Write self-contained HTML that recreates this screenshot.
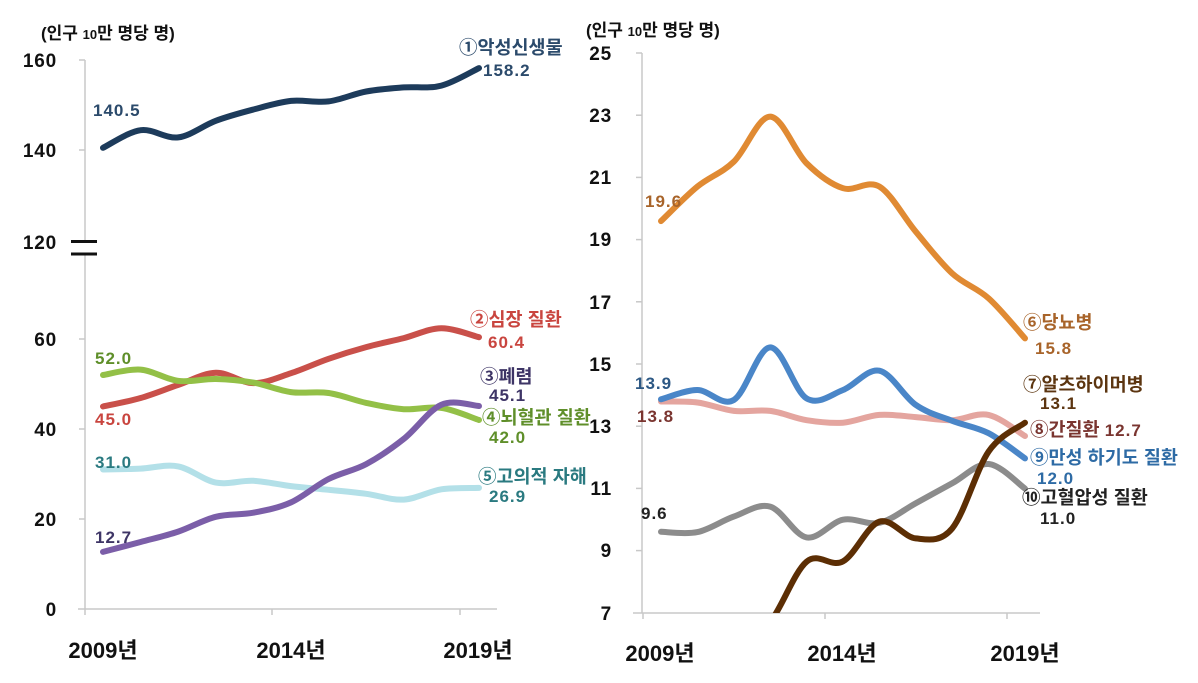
<!DOCTYPE html>
<html><head><meta charset="utf-8">
<style>
html,body{margin:0;padding:0;background:#fff;}
svg{display:block;}
text{font-family:"Liberation Sans","Noto Sans CJK KR",sans-serif;font-weight:bold;}
.yt{font-size:19px;fill:#111;letter-spacing:0.8px;}
.xt{font-size:22px;fill:#111;}
.kr{font-size:18.5px;}
.num{font-size:17px;letter-spacing:1px;}
.ttl{font-size:17px;fill:#111;}
</style></head>
<body>
<svg id="chart" width="1198" height="683" viewBox="0 0 1198 683" xmlns="http://www.w3.org/2000/svg">
<defs>
<clipPath id="clipR"><rect x="643" y="40" width="420" height="573"/></clipPath>
</defs>
<rect width="1198" height="683" fill="#fff"/>

<!-- LEFT CHART AXES -->
<g stroke="#c8c8c8" stroke-width="1.5" fill="none">
<line x1="85" y1="60" x2="85" y2="609"/>
<line x1="78" y1="609" x2="497" y2="609"/>
<line x1="79" y1="60" x2="85" y2="60"/>
<line x1="79" y1="150" x2="85" y2="150"/>
<line x1="79" y1="339" x2="85" y2="339"/>
<line x1="79" y1="429" x2="85" y2="429"/>
<line x1="79" y1="519" x2="85" y2="519"/>
<line x1="85" y1="609" x2="85" y2="615"/>
<line x1="272" y1="609" x2="272" y2="615"/>
<line x1="460" y1="609" x2="460" y2="615"/>
</g>
<rect x="70" y="243" width="28" height="10" fill="#fff"/>
<g stroke="#111" stroke-width="3">
<line x1="71" y1="241.5" x2="97" y2="241.5"/>
<line x1="71" y1="254" x2="97" y2="254"/>
</g>
<g class="yt" text-anchor="end">
<text x="57" y="67">160</text>
<text x="57" y="157">140</text>
<text x="57" y="249">120</text>
<text x="57" y="346">60</text>
<text x="57" y="436">40</text>
<text x="57" y="526">20</text>
<text x="57" y="616">0</text>
</g>
<g class="xt" text-anchor="middle">
<text x="103" y="658">2009년</text>
<text x="291" y="658">2014년</text>
<text x="478" y="658">2019년</text>
</g>
<text class="ttl" x="41" y="39">(인구 <tspan font-size="13">10</tspan>만 명당 명)</text>

<!-- RIGHT CHART AXES -->
<g stroke="#c8c8c8" stroke-width="1.5" fill="none">
<line x1="642" y1="53" x2="642" y2="613"/>
<line x1="633" y1="613" x2="1040" y2="613"/>
<line x1="636" y1="53" x2="642" y2="53"/>
<line x1="636" y1="115.2" x2="642" y2="115.2"/>
<line x1="636" y1="177.4" x2="642" y2="177.4"/>
<line x1="636" y1="239.6" x2="642" y2="239.6"/>
<line x1="636" y1="301.8" x2="642" y2="301.8"/>
<line x1="636" y1="364" x2="642" y2="364"/>
<line x1="636" y1="426.2" x2="642" y2="426.2"/>
<line x1="636" y1="488.4" x2="642" y2="488.4"/>
<line x1="636" y1="550.6" x2="642" y2="550.6"/>
<line x1="643" y1="613" x2="643" y2="619"/>
<line x1="825" y1="613" x2="825" y2="619"/>
<line x1="1007" y1="613" x2="1007" y2="619"/>
</g>
<g class="yt" text-anchor="end">
<text x="612" y="60">25</text>
<text x="612" y="122">23</text>
<text x="612" y="184">21</text>
<text x="612" y="246">19</text>
<text x="612" y="309">17</text>
<text x="612" y="371">15</text>
<text x="612" y="433">13</text>
<text x="612" y="495">11</text>
<text x="612" y="557">9</text>
<text x="612" y="620">7</text>
</g>
<g class="xt" text-anchor="middle">
<text x="660" y="661">2009년</text>
<text x="842" y="661">2014년</text>
<text x="1025" y="661">2019년</text>
</g>
<text class="ttl" x="586" y="36">(인구 <tspan font-size="13">10</tspan>만 명당 명)</text>

<!-- SERIES (paths filled by script) -->
<g fill="none" stroke-width="6" stroke-linecap="round" stroke-linejoin="round">
<path id="s1" stroke="#1d3b5b"/>
<path id="s2" stroke="#c9504a"/>
<path id="s4" stroke="#93c047"/>
<path id="s5" stroke="#b3e0e8"/>
<path id="s3" stroke="#7b5ea8"/>
<path id="s6" stroke="#e08a33"/>
<path id="s8" stroke="#e4a59f"/>
<path id="s10" stroke="#8c8c8c"/>
<path id="s9" stroke="#4a86c8"/>
<path id="s7" stroke="#5c2e04" clip-path="url(#clipR)"/>
</g>

<!-- LEFT LABELS -->
<g fill="#2b4a6b">
<text class="kr" x="459" y="54">①악성신생물</text>
<text class="num" x="483" y="76">158.2</text>
<text class="num" x="93" y="116">140.5</text>
</g>
<g fill="#c9453f">
<text class="kr" x="470" y="326">②심장 질환</text>
<text class="num" x="488" y="348">60.4</text>
<text class="num" x="95" y="425">45.0</text>
</g>
<g fill="#5f8f2a">
<text class="num" x="95" y="364">52.0</text>
<text class="kr" x="482" y="424">④뇌혈관 질환</text>
<text class="num" x="489" y="443">42.0</text>
</g>
<g fill="#3e3566">
<text class="kr" x="480" y="383">③폐렴</text>
<text class="num" x="489" y="401">45.1</text>
<text class="num" x="95" y="543">12.7</text>
</g>
<g fill="#2a7a80">
<text class="num" x="95" y="468">31.0</text>
<text class="kr" x="478" y="483">⑤고의적 자해</text>
<text class="num" x="489" y="502">26.9</text>
</g>

<!-- RIGHT LABELS -->
<g fill="#a8642a">
<text class="num" x="645" y="207">19.6</text>
<text class="kr" x="1023" y="329">⑥당뇨병</text>
<text class="num" x="1035" y="354">15.8</text>
</g>
<g fill="#2d5884">
<text class="num" x="635" y="389">13.9</text>
</g>
<g fill="#7a3530">
<text class="num" x="637" y="422">13.8</text>
<text class="kr" x="1030" y="436">⑧간질환 <tspan class="num">12.7</tspan></text>
</g>
<g fill="#5c3510">
<text class="kr" x="1023" y="391">⑦알츠하이머병</text>
<text class="num" x="1040" y="409">13.1</text>
</g>
<g fill="#2e6ba5">
<text class="kr" x="1030" y="464">⑨만성 하기도 질환</text>
<text class="num" x="1037" y="484">12.0</text>
</g>
<g fill="#222">
<text class="num" x="641" y="519">9.6</text>
<text class="kr" x="1022" y="504">⑩고혈압성 질환</text>
<text class="num" x="1040" y="524">11.0</text>
</g>
</svg>
<script>
(function(){
function build(xs, ys){
  var n=xs.length, d="M"+xs[0].toFixed(1)+","+ys[0].toFixed(1);
  for(var i=0;i<n-1;i++){
    var p0=i>0?i-1:i, p3=i+2<n?i+2:i+1;
    var c1x=xs[i]+(xs[i+1]-xs[p0])/6, c1y=ys[i]+(ys[i+1]-ys[p0])/6;
    var c2x=xs[i+1]-(xs[p3]-xs[i])/6, c2y=ys[i+1]-(ys[p3]-ys[i])/6;
    d+=" C"+c1x.toFixed(1)+","+c1y.toFixed(1)+" "+c2x.toFixed(1)+","+c2y.toFixed(1)+" "+xs[i+1].toFixed(1)+","+ys[i+1].toFixed(1);
  }
  return d;
}
function xsL(){var a=[];for(var i=0;i<11;i++)a.push(103+i*37.6);return a;}
function xsR(){var a=[];for(var i=0;i<11;i++)a.push(661+i*36.4);return a;}
function upper(v){return 60+(160-v)*4.5;}
function lower(v){return 609-v*4.5;}
function right(v){return 613-(v-7)*31.1;}
var L={
 s1:[[140.5,144.4,142.8,146.5,149.0,150.9,150.8,153.0,153.9,154.3,158.2],upper],
 s2:[[45.0,46.9,49.8,52.5,50.2,52.4,55.6,58.2,60.2,62.4,60.4],lower],
 s3:[[12.7,14.9,17.2,20.5,21.4,23.7,28.9,32.2,37.8,45.4,45.1],lower],
 s4:[[52.0,53.2,50.7,51.1,50.3,48.2,48.0,45.8,44.4,44.7,42.0],lower],
 s5:[[31.0,31.2,31.7,28.1,28.5,27.3,26.5,25.6,24.3,26.6,26.9],lower]
};
var R={
 s6:[19.6,20.71,21.51,22.96,21.46,20.66,20.71,19.26,17.92,17.12,15.83],
 s8:[13.8,13.77,13.5,13.5,13.2,13.12,13.37,13.3,13.2,13.37,12.69],
 s10:[9.61,9.6,10.1,10.42,9.43,10.0,9.9,10.53,11.17,11.79,11.0],
 s9:[13.87,14.17,13.85,15.54,13.9,14.17,14.79,13.69,13.18,12.78,11.97],
 s7:[4.0,4.8,5.6,6.7,8.65,8.66,9.94,9.4,9.72,12.19,13.12]
};
var k;
for(k in L){document.getElementById(k).setAttribute("d",build(xsL(),L[k][0].map(L[k][1])));}
for(k in R){document.getElementById(k).setAttribute("d",build(xsR(),R[k].map(right)));}
})();
</script>
</body></html>
